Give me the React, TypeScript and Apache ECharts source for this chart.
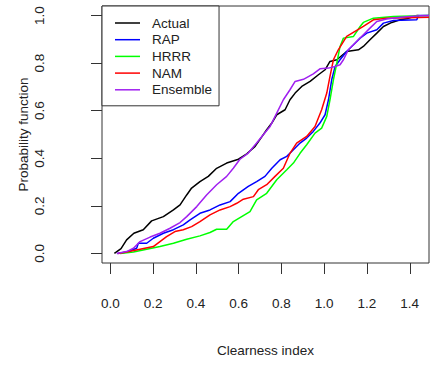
import React, { useEffect, useRef } from "react";
import * as echarts from "echarts";

const xTicks = [0, 0.2, 0.4, 0.6, 0.8, 1.0, 1.2, 1.4];
const yTicks = [0, 0.2, 0.4, 0.6, 0.8, 1.0];
const seriesNames = ["Actual", "RAP", "HRRR", "NAM", "Ensemble"];
const seriesColors = ["#000000", "#0000ff", "#00ff00", "#ff0000", "#a020f0"];

const actual = [
  [0.019, 0], [0.05, 0.02], [0.076, 0.057], [0.11, 0.085], [0.154, 0.1], [0.193, 0.137],
  [0.248, 0.155], [0.295, 0.183], [0.326, 0.204], [0.357, 0.246], [0.38, 0.275],
  [0.419, 0.302], [0.458, 0.324], [0.497, 0.358], [0.544, 0.38], [0.599, 0.396],
  [0.638, 0.419], [0.677, 0.45], [0.708, 0.49], [0.731, 0.52], [0.755, 0.548],
  [0.778, 0.583], [0.817, 0.604], [0.84, 0.646], [0.864, 0.674], [0.895, 0.702],
  [0.934, 0.723], [0.973, 0.751], [1.004, 0.772], [1.027, 0.807], [1.059, 0.814],
  [1.105, 0.849], [1.16, 0.856], [1.183, 0.87], [1.214, 0.898], [1.246, 0.926],
  [1.277, 0.954], [1.316, 0.971], [1.355, 0.982], [1.386, 0.986], [1.434, 1.0], [1.44, 1.0],
];

const rap = [
  [0.033, 0], [0.076, 0.006], [0.123, 0.022], [0.131, 0.043], [0.17, 0.043], [0.201, 0.064],
  [0.248, 0.085], [0.295, 0.1], [0.341, 0.12], [0.373, 0.141], [0.419, 0.169],
  [0.466, 0.183], [0.513, 0.204], [0.56, 0.218], [0.599, 0.253], [0.645, 0.282],
  [0.684, 0.302], [0.723, 0.324], [0.755, 0.358], [0.794, 0.394], [0.825, 0.408],
  [0.856, 0.436], [0.887, 0.464], [0.918, 0.485], [0.949, 0.513], [0.98, 0.548],
  [1.004, 0.583], [1.02, 0.646], [1.035, 0.73], [1.051, 0.786], [1.074, 0.814],
  [1.105, 0.849], [1.137, 0.877], [1.168, 0.905], [1.199, 0.926], [1.246, 0.94],
  [1.277, 0.968], [1.324, 0.979], [1.433, 0.982], [1.44, 1.0], [1.49, 1.0],
];

const hrrr = [
  [0.045, 0], [0.108, 0.006], [0.17, 0.018], [0.232, 0.029], [0.295, 0.043], [0.357, 0.06],
  [0.419, 0.074], [0.466, 0.088], [0.497, 0.102], [0.544, 0.102], [0.575, 0.134],
  [0.614, 0.155], [0.653, 0.176], [0.684, 0.225], [0.731, 0.253], [0.778, 0.31],
  [0.825, 0.352], [0.856, 0.38], [0.887, 0.421], [0.918, 0.457], [0.957, 0.506],
  [0.988, 0.527], [1.012, 0.576], [1.027, 0.646], [1.043, 0.73], [1.059, 0.8],
  [1.074, 0.87], [1.09, 0.905], [1.137, 0.912], [1.168, 0.954], [1.183, 0.971],
  [1.23, 0.989], [1.324, 0.996], [1.49, 1.0],
];

const nam = [
  [0.037, 0], [0.076, 0.006], [0.139, 0.018], [0.201, 0.029], [0.232, 0.05], [0.263, 0.071],
  [0.302, 0.092], [0.341, 0.1], [0.38, 0.113], [0.419, 0.134], [0.466, 0.162],
  [0.513, 0.183], [0.56, 0.197], [0.591, 0.211], [0.622, 0.228], [0.669, 0.239],
  [0.692, 0.268], [0.731, 0.289], [0.77, 0.324], [0.809, 0.358], [0.84, 0.421],
  [0.871, 0.464], [0.918, 0.492], [0.957, 0.534], [0.988, 0.604], [1.012, 0.674],
  [1.027, 0.744], [1.043, 0.814], [1.066, 0.856], [1.105, 0.912], [1.144, 0.933],
  [1.183, 0.954], [1.23, 0.982], [1.292, 0.989], [1.49, 0.993],
];

const ensemble = [
  [0.03, 0], [0.076, 0.008], [0.108, 0.022], [0.139, 0.05], [0.186, 0.069], [0.232, 0.085],
  [0.279, 0.106], [0.326, 0.13], [0.357, 0.155], [0.404, 0.197], [0.45, 0.246],
  [0.497, 0.289], [0.544, 0.324], [0.575, 0.358], [0.606, 0.396], [0.645, 0.422],
  [0.684, 0.464], [0.715, 0.499], [0.747, 0.534], [0.778, 0.59], [0.809, 0.646],
  [0.84, 0.688], [0.864, 0.723], [0.903, 0.732], [0.949, 0.755], [0.98, 0.776],
  [1.02, 0.779], [1.051, 0.786], [1.074, 0.793], [1.09, 0.814], [1.113, 0.856],
  [1.152, 0.891], [1.183, 0.919], [1.214, 0.947], [1.246, 0.975], [1.292, 0.985],
  [1.355, 0.993], [1.449, 0.999], [1.49, 1.0],
];

const allData = [actual, rap, hrrr, nam, ensemble];

const FONT = "Liberation Sans, Arial, sans-serif";
const TXT = "#222222";
const FS = 13.5;

export default function App() {
  const ref = useRef<HTMLDivElement>(null);
  useEffect(() => {
    document.body.style.margin = "0";
    const chart = echarts.init(ref.current!, null, { renderer: "svg" });
    chart.setOption({
      animation: false,
      backgroundColor: "#ffffff",
      textStyle: { fontFamily: FONT },
      grid: {
        left: 102,
        top: 6,
        right: 2,
        bottom: 102,
        show: true,
        borderColor: "#333333",
        borderWidth: 1,
        backgroundColor: "transparent",
      },
      legend: {
        orient: "vertical",
        left: 102,
        top: 6,
        data: seriesNames,
        icon: "path://M0 0H25V1.5H0Z",
        itemWidth: 25,
        itemHeight: 14,
        itemGap: 2.7,
        padding: [10, 7, 9, 13],
        borderColor: "#333333",
        borderWidth: 1,
        borderRadius: 0,
        backgroundColor: "#ffffff",
        textStyle: { fontSize: FS, color: TXT, fontFamily: FONT, padding: [0, 0, 0, 7] },
      },
      xAxis: {
        type: "value",
        min: -0.039,
        max: 1.49,
        axisLine: { show: false, onZero: false },
        splitLine: { show: false },
        axisTick: {
          show: true,
          customValues: xTicks,
          length: 11,
          lineStyle: { color: "#333333", width: 1 },
        },
        axisLabel: {
          customValues: xTicks,
          formatter: (v: number) => v.toFixed(1),
          margin: 33,
          fontSize: FS,
          color: TXT,
          fontFamily: FONT,
        },
        name: "Clearness index",
        nameLocation: "middle",
        nameGap: 80,
        nameMoveOverlap: false,
        nameTextStyle: { fontSize: FS, color: TXT, fontFamily: FONT },
      },
      yAxis: {
        type: "value",
        min: -0.04,
        max: 1.04,
        axisLine: { show: false, onZero: false },
        splitLine: { show: false },
        axisTick: {
          show: true,
          customValues: yTicks,
          length: 11,
          lineStyle: { color: "#333333", width: 1 },
        },
        axisLabel: {
          customValues: yTicks,
          formatter: (v: number) => v.toFixed(1),
          rotate: 90,
          margin: 56,
          fontSize: FS,
          color: TXT,
          fontFamily: FONT,
        },
        name: "Probability function",
        nameLocation: "middle",
        nameGap: 72,
        nameMoveOverlap: false,
        nameTextStyle: { fontSize: FS, color: TXT, fontFamily: FONT },
      },
      series: seriesNames.map((name, i) => ({
        name,
        type: "line",
        data: allData[i],
        symbol: "none",
        showSymbol: false,
        lineStyle: { width: 1.5, color: seriesColors[i] },
        itemStyle: { color: seriesColors[i] },
      })),
    });
    return () => chart.dispose();
  }, []);
  return <div ref={ref} style={{ width: 431, height: 365 }} />;
}
